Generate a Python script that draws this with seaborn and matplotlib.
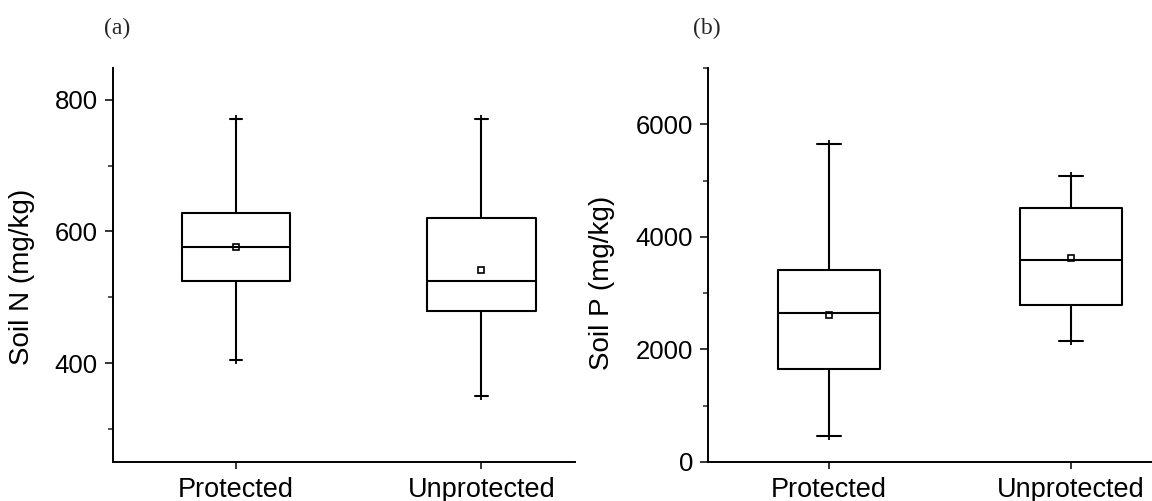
import matplotlib
matplotlib.use("Agg")
import matplotlib.pyplot as plt
from matplotlib.ticker import MultipleLocator
import seaborn as sns
import pandas as pd

# Groups:
groups = ["Protected", "Unprotected"]

# Five-number summaries (min, Q1, median, Q3, max):
soil_n_protected = [405, 525, 577, 628, 771]
soil_n_unprotected = [350, 479, 525, 620, 771]
soil_p_protected = [462, 1643, 2642, 3417, 5660]
soil_p_unprotected = [2141, 2783, 3586, 4520, 5091]

# Means (small squares):
soil_n_means = [577, 542]
soil_p_means = [2607, 3621]

sns.set_theme(style="white")
plt.rcParams["font.family"] = ["Liberation Sans", "DejaVu Sans"]


def make_df(a, b):
    return pd.DataFrame({
        "group": [groups[0]] * len(a) + [groups[1]] * len(b),
        "value": a + b,
    })


df_n = make_df(soil_n_protected, soil_n_unprotected)
df_p = make_df(soil_p_protected, soil_p_unprotected)

fig = plt.figure(figsize=(11.52, 5.01), dpi=100)
ax1 = fig.add_axes([0.098, 0.078, 0.401, 0.786])
ax2 = fig.add_axes([0.6146, 0.078, 0.3854, 0.786])

panels = [
    (ax1, df_n, soil_n_means, 0.44, 0.05, "Soil N (mg/kg)", (250, 848), 200, 100, (-0.5, 1.38), -0.168, 0.47, "(a)"),
    (ax2, df_p, soil_p_means, 0.42, 0.1, "Soil P (mg/kg)", (0, 7000), 2000, 1000, (-0.5, 1.335), -0.21, 0.455, "(b)"),
]

for ax, dfx, means, w, capw, ylab, ylim, major, minor, xlim, lx, ly, tag in panels:
    sns.boxplot(data=dfx, x="group", y="value", order=groups,
                whis=(0, 100), width=w, fill=False,
                color="black", linecolor="black", linewidth=1.5,
                capwidths=capw, ax=ax)

    # whisker end marks
    for col in ("min", "max"):
        ends = dfx.groupby("group")["value"].agg(col).reindex(groups)
        sns.pointplot(x=groups, y=ends.values, order=groups,
                      linestyle="none", marker="+", markersize=6,
                      markeredgewidth=1.3, color="black",
                      errorbar=None, ax=ax)

    # means
    sns.pointplot(x=groups, y=means, order=groups,
                  linestyle="none", marker="s", markersize=4.5,
                  markerfacecolor="white", markeredgecolor="black",
                  markeredgewidth=1.2, color="black",
                  errorbar=None, ax=ax)

    ax.set_ylim(*ylim)
    ax.set_xlim(*xlim)
    ax.yaxis.set_major_locator(MultipleLocator(major))
    ax.yaxis.set_minor_locator(MultipleLocator(minor))

    ax.spines[["top", "right"]].set_visible(False)
    ax.spines[["left", "bottom"]].set_linewidth(1.4)
    ax.spines[["left", "bottom"]].set_color("black")
    ax.tick_params(axis="y", which="major", direction="out", length=5.8,
                   width=1.1, pad=5, labelsize=18.5, left=True, colors="black")
    ax.tick_params(axis="y", which="minor", direction="out", length=3.6,
                   width=1.1, left=True)
    ax.tick_params(axis="x", direction="out", length=5, width=1.1,
                   pad=6, labelsize=19.5, bottom=True, colors="black")

    ax.set_xlabel("")
    ax.set_ylabel(ylab, fontsize=20, color="black")
    ax.yaxis.set_label_coords(lx, ly)

    ax.text(0.01 if tag == "(a)" else -0.003, 1.10, tag, transform=ax.transAxes,
            ha="center", va="center", fontsize=17,
            family=["Liberation Serif", "DejaVu Serif"])

fig.savefig("out.png", dpi=100)
